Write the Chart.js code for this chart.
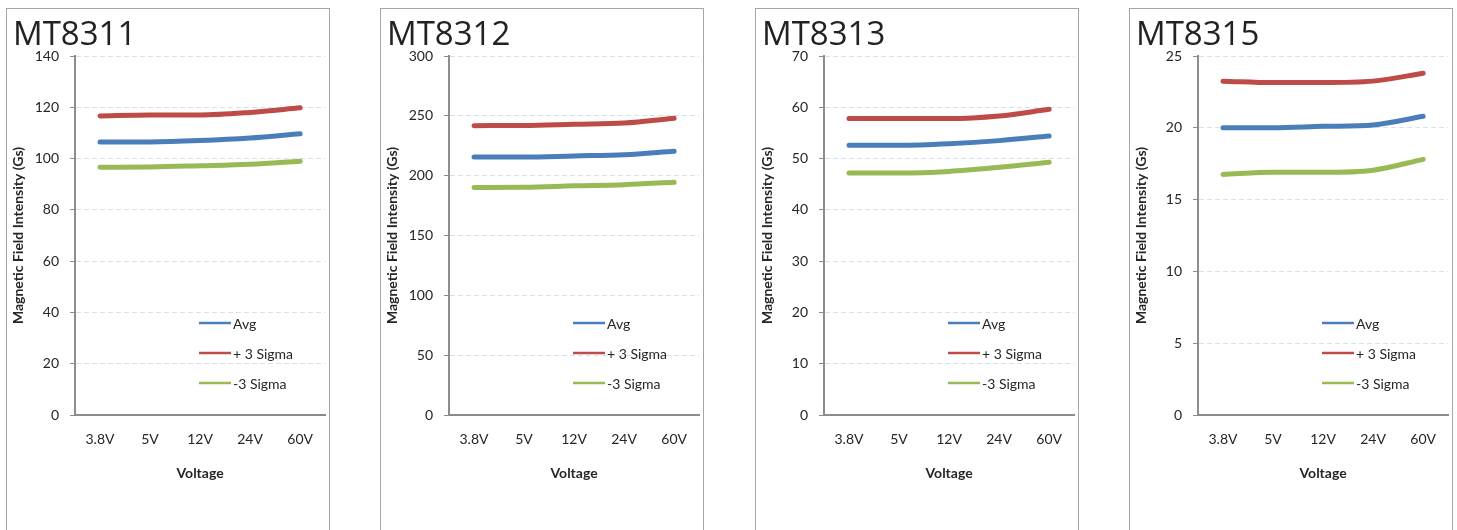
<!DOCTYPE html>
<html>
<head>
<meta charset="utf-8">
<script src="https://cdn.jsdelivr.net/npm/chart.js@4"></script>
<style>
  html, body { margin: 0; padding: 0; background: #fff; overflow: hidden; }
  .panel { position: absolute; top: 8px; width: 322px; height: 521px; border: 1px solid #a6a6a6; }
  canvas { display: block; }
</style>
</head>
<body>
<div class="panel" style="left:6px"><canvas id="c0" width="322" height="521"></canvas></div>
<div class="panel" style="left:380px"><canvas id="c1" width="322" height="521"></canvas></div>
<div class="panel" style="left:755px"><canvas id="c2" width="322" height="521"></canvas></div>
<div class="panel" style="left:1129px"><canvas id="c3" width="322" height="521"></canvas></div>
<script>
// Data
const voltages = ["3.8V", "5V", "12V", "24V", "60V"];
const models = ["MT8311", "MT8312", "MT8313", "MT8315"];
const seriesNames = ["Avg", "+ 3 Sigma", "-3 Sigma"];

const mt8311Avg = [106.5, 106.5, 107, 108, 109.7];
const mt8311Plus = [116.6, 117, 117, 118, 119.8];
const mt8311Minus = [96.6, 96.7, 97.2, 97.8, 99];

const mt8312Avg = [215.5, 215.5, 216.5, 217.5, 220.5];
const mt8312Plus = [241.8, 242, 243, 244, 248];
const mt8312Minus = [190.2, 190.3, 191.5, 192.5, 194.5];

const mt8313Avg = [52.6, 52.6, 52.9, 53.5, 54.4];
const mt8313Plus = [57.8, 57.8, 57.8, 58.3, 59.6];
const mt8313Minus = [47.2, 47.2, 47.5, 48.3, 49.3];

const mt8315Avg = [20.0, 20.0, 20.1, 20.2, 20.8];
const mt8315Plus = [23.25, 23.15, 23.15, 23.25, 23.8];
const mt8315Minus = [16.75, 16.9, 16.9, 17.05, 17.8];

const axisMax = [140, 300, 70, 25];
const axisStep = [20, 50, 10, 5];

const allSeries = [
  [mt8311Avg, mt8311Plus, mt8311Minus],
  [mt8312Avg, mt8312Plus, mt8312Minus],
  [mt8313Avg, mt8313Plus, mt8313Minus],
  [mt8315Avg, mt8315Plus, mt8315Minus],
];
const colors = ["#4a7ebb", "#be4b48", "#98b954"];

const textColor = "#262626";
const axisColor = "#8c8c8c";

// Big title in the corner and the legend inside the plot
const panelDecor = {
  id: "panelDecor",
  afterDraw(chart, args, opts) {
    const ctx = chart.ctx;
    const area = chart.chartArea;
    ctx.save();
    ctx.fillStyle = "#222";
    ctx.font = "33px 'Open Sans'";
    ctx.textBaseline = "alphabetic";
    ctx.fillText(opts.title, 6, 36);

    ctx.font = "14px Lato";
    ctx.textBaseline = "middle";
    chart.data.datasets.forEach((ds, i) => {
      const y = area.bottom - 92 + i * 30;
      const x = area.left + 124;
      ctx.strokeStyle = ds.borderColor;
      ctx.lineWidth = 2.5;
      ctx.beginPath();
      ctx.moveTo(x, y);
      ctx.lineTo(x + 32, y);
      ctx.stroke();
      ctx.fillStyle = textColor;
      ctx.fillText(ds.label, x + 34, y + 1);
    });
    ctx.restore();
  },
};

models.forEach((name, i) => {
  const ctx = document.getElementById("c" + i).getContext("2d");
  new Chart(ctx, {
    type: "line",
    data: {
      labels: voltages,
      datasets: allSeries[i].map((vals, k) => ({
        label: seriesNames[k],
        data: vals,
        borderColor: colors[k],
        backgroundColor: colors[k],
        borderWidth: 5,
        borderCapStyle: "round",
        pointRadius: 0,
        cubicInterpolationMode: "monotone",
      })),
    },
    options: {
      responsive: false,
      animation: false,
      layout: { padding: { left: 3, top: 47, right: 0, bottom: 0 } },
      plugins: {
        legend: { display: false },
        tooltip: { enabled: false },
        panelDecor: { title: name },
      },
      scales: {
        x: {
          offset: true,
          grid: { display: false, drawTicks: false },
          border: { display: true, color: axisColor, width: 2 },
          ticks: {
            color: textColor,
            font: { family: "Lato", size: 14 },
            padding: 16,
            maxRotation: 0,
          },
          title: {
            display: true,
            text: "Voltage",
            color: textColor,
            font: { family: "Lato", size: 14, weight: "bold" },
            padding: { top: 0, bottom: 48 },
          },
          afterFit(scale) {
            scale.height = 115;
          },
        },
        y: {
          min: 0,
          max: axisMax[i],
          ticks: {
            stepSize: axisStep[i],
            color: textColor,
            font: { family: "Lato", size: 14 },
            padding: 11,
          },
          grid: {
            color: "#d9e1ef",
            lineWidth: 1,
            tickColor: axisColor,
            tickLength: 5,
            tickBorderDash: [],
          },
          border: { display: true, color: axisColor, width: 2, dash: [5, 3] },
          title: {
            display: true,
            text: "Magnetic Field Intensity (Gs)",
            color: textColor,
            font: { family: "Lato", size: 14, weight: "bold" },
            padding: { top: 0, bottom: 0 },
          },
          afterFit(scale) {
            scale.width = 65;
          },
        },
      },
    },
    plugins: [panelDecor],
  });
});
</script>
</body>
</html>
